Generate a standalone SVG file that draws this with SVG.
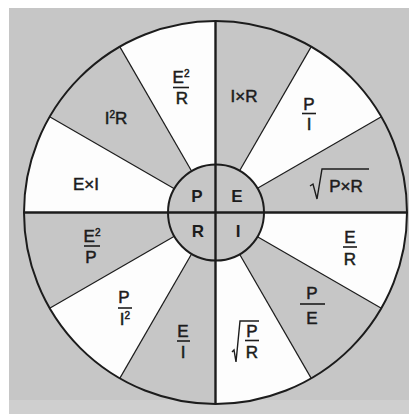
<svg xmlns="http://www.w3.org/2000/svg" width="409" height="414" viewBox="0 0 409 414">
<style>
.bg{fill:#c6c6c6}
.w{fill:#fdfdfd}
.t{font-family:"Liberation Sans",Arial,sans-serif;font-size:17px;fill:#1c1c1c;stroke:#1c1c1c;stroke-width:0.5;text-anchor:middle}
.c{font-family:"Liberation Sans",Arial,sans-serif;font-size:17px;font-weight:bold;fill:#1c1c1c;text-anchor:middle}
.sup{font-size:10px}
.fl{stroke:#1c1c1c;stroke-width:1.6;fill:none}
.rad{stroke:#1c1c1c;stroke-width:1.4;fill:none;stroke-linejoin:miter}
.r{stroke:#1c1c1c;stroke-width:1.2}
.ax{stroke:#1c1c1c;stroke-width:2.4}
</style>
<rect width="409" height="414" fill="#ffffff"/>
<rect x="9" y="8" width="400" height="406" class="bg"/>
<rect x="9" y="400" width="400" height="14" fill="#cfcfcf"/>
<g id="wheel">
<circle cx="215.5" cy="212.5" r="191.5" class="bg"/>
<path class="w" d="M215.5 212.5 L311.25 46.66 A191.5 191.5 0 0 1 381.34 116.75 Z"/>
<path class="w" d="M215.5 212.5 L407 212.5 A191.5 191.5 0 0 1 381.34 308.25 Z"/>
<path class="w" d="M215.5 212.5 L311.25 378.34 A191.5 191.5 0 0 1 215.5 404 Z"/>
<path class="w" d="M215.5 212.5 L119.75 378.34 A191.5 191.5 0 0 1 49.66 308.25 Z"/>
<path class="w" d="M215.5 212.5 L24 212.5 A191.5 191.5 0 0 1 49.66 116.75 Z"/>
<path class="w" d="M215.5 212.5 L119.75 46.66 A191.5 191.5 0 0 1 215.5 21 Z"/>
</g>
<g id="connectors">
<line class="r" x1="215.5" y1="212.5" x2="311.25" y2="46.66"/>
<line class="r" x1="215.5" y1="212.5" x2="381.34" y2="116.75"/>
<line class="r" x1="215.5" y1="212.5" x2="381.34" y2="308.25"/>
<line class="r" x1="215.5" y1="212.5" x2="311.25" y2="378.34"/>
<line class="r" x1="215.5" y1="212.5" x2="119.75" y2="378.34"/>
<line class="r" x1="215.5" y1="212.5" x2="49.66" y2="308.25"/>
<line class="r" x1="215.5" y1="212.5" x2="49.66" y2="116.75"/>
<line class="r" x1="215.5" y1="212.5" x2="119.75" y2="46.66"/>
<circle cx="215.5" cy="212.5" r="191.5" fill="none" stroke="#1c1c1c" stroke-width="2"/>
</g>
<g id="center">
<circle cx="216" cy="212.5" r="48" fill="#c6c6c6" stroke="#1c1c1c" stroke-width="2"/>
</g>
<g id="axes">
<line class="ax" x1="215.5" y1="21" x2="215.5" y2="404"/>
<line class="ax" x1="24" y1="212.5" x2="407" y2="212.5"/>
</g>
<g id="center-labels">
<text class="c" x="197" y="202">P</text>
<text class="c" x="237" y="202">E</text>
<text class="c" x="198" y="237">R</text>
<text class="c" x="238" y="237">I</text>
</g>
<g id="s-IxR"><text class="t" x="244" y="102">I×R</text></g>
<g id="s-P-I"><text class="t" x="309" y="110">P</text><line class="fl" x1="302" y1="113.5" x2="316" y2="113.5"/><text class="t" x="309" y="130">I</text></g>
<g id="s-sqrtPxR"><path class="rad" d="M310 186 L313 184 L317 199 L322 169 L369 169"/><text class="t" x="346" y="192">P×R</text></g>
<g id="s-E-R"><text class="t" x="350" y="243">E</text><line class="fl" x1="343" y1="247" x2="357" y2="247"/><text class="t" x="350" y="265">R</text></g>
<g id="s-P-E"><text class="t" x="312" y="299">P</text><line class="fl" x1="300" y1="304" x2="325" y2="304"/><text class="t" x="312" y="324">E</text></g>
<g id="s-sqrtP-R"><path class="rad" d="M232 352 L234 350 L236 362 L240 321 L259 321"/><text class="t" x="252" y="337">P</text><line class="fl" x1="245" y1="340.5" x2="259" y2="340.5"/><text class="t" x="252" y="358">R</text></g>
<g id="s-E-I"><text class="t" x="183" y="337">E</text><line class="fl" x1="177" y1="341" x2="190" y2="341"/><text class="t" x="183" y="358">I</text></g>
<g id="s-P-I2"><text class="t" x="124" y="303">P</text><line class="fl" x1="118" y1="308" x2="132" y2="308"/><text class="t" x="125" y="325">I<tspan class="sup" dy="-6">2</tspan></text></g>
<g id="s-E2-P"><text class="t" x="92" y="242">E<tspan class="sup" dy="-6">2</tspan></text><line class="fl" x1="84" y1="246" x2="100" y2="246"/><text class="t" x="91" y="263">P</text></g>
<g id="s-ExI"><text class="t" x="86" y="190">E×I</text></g>
<g id="s-I2R"><text class="t" x="116" y="124">I<tspan class="sup" dy="-6">2</tspan><tspan dy="6">R</tspan></text></g>
<g id="s-E2-R"><text class="t" x="181" y="83">E<tspan class="sup" dy="-6">2</tspan></text><line class="fl" x1="173" y1="87.5" x2="189" y2="87.5"/><text class="t" x="182" y="104">R</text></g>
</svg>
